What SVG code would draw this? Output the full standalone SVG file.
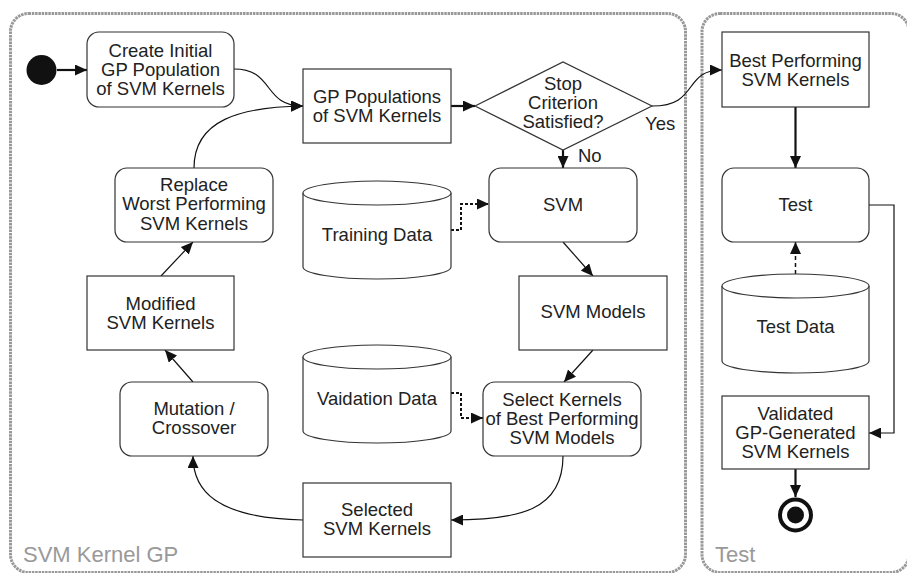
<svg xmlns="http://www.w3.org/2000/svg" width="907" height="573" viewBox="0 0 907 573">
<style>
.bg{fill:#fff}
.cont{fill:none;stroke:#999;stroke-width:3;stroke-dasharray:2.5 0.8}
.clabel{font-family:"Liberation Sans",Arial,Helvetica,sans-serif;font-size:22px;fill:#999}
.n{fill:#fff;stroke:#333;stroke-width:1.2}
.t{font-family:"Liberation Sans",Arial,Helvetica,sans-serif;font-size:18.5px;fill:#222;text-anchor:middle}
.lbl{font-family:"Liberation Sans",Arial,Helvetica,sans-serif;font-size:18.5px;fill:#222}
.c{fill:none;stroke:#111;stroke-width:1.2}
.thick{stroke-width:2.2}
.dot{stroke-width:2;stroke-dasharray:3 2}
.dash{stroke-width:1.5;stroke-dasharray:4 3}
</style>
<defs>
<marker id="ah" markerWidth="12" markerHeight="11" refX="12" refY="5.5" orient="auto" markerUnits="userSpaceOnUse">
<path d="M0,0 L12,5.5 L0,11 z" fill="#111"/>
</marker>
</defs>
<rect class="bg" x="0" y="0" width="907" height="573"/>
<g id="container-svm-kernel-gp">
<rect class="cont" x="10.5" y="13.5" width="675" height="559" rx="18"/>
<text class="clabel" x="23" y="562">SVM Kernel GP</text>
</g>
<g id="container-test">
<rect class="cont" x="702" y="13.5" width="207" height="559" rx="18"/>
<text class="clabel" x="715" y="562">Test</text>
</g>
<g id="connectors">
<path class="c thick" d="M57,70 L87,70" marker-end="url(#ah)"/>
<path class="c" d="M234,69 C275,69 262,106 303,106" marker-end="url(#ah)"/>
<path class="c" d="M194,168 C194,120 240,107 303,106" marker-end="url(#ah)"/>
<path class="c thick" d="M451,106 L475,106" marker-end="url(#ah)"/>
<path class="c thick" d="M563,150 L563,168" marker-end="url(#ah)"/>
<path class="c" d="M652,106 C700,106 682,70 722,70" marker-end="url(#ah)"/>
<path class="c thick" d="M795.5,107 L795.5,168" marker-end="url(#ah)"/>
<path class="c dot" d="M451,230 L461,230 L461,204 L489,204" marker-end="url(#ah)"/>
<path class="c" d="M563,242 L593,276" marker-end="url(#ah)"/>
<path class="c" d="M593,350 L564,382" marker-end="url(#ah)"/>
<path class="c dot" d="M451,393 L461,393 L461,418 L483,418" marker-end="url(#ah)"/>
<path class="c" d="M563,456 C563,510 520,520 451,520" marker-end="url(#ah)"/>
<path class="c" d="M303,520 C215,518 193,490 193,456" marker-end="url(#ah)"/>
<path class="c" d="M193,382 L165,350" marker-end="url(#ah)"/>
<path class="c" d="M161,276 L193,242" marker-end="url(#ah)"/>
<path class="c dash" d="M795.5,274 L795.5,242" marker-end="url(#ah)"/>
<path class="c" d="M869,205 L894,205 L894,433 L869,433" marker-end="url(#ah)"/>
<path class="c thick" d="M795.5,469 L795.5,497" marker-end="url(#ah)"/>
<text class="lbl" x="645" y="130">Yes</text>
<text class="lbl" x="578" y="162">No</text>
</g>
<g id="start"><circle cx="41.5" cy="70" r="15" fill="#111"/></g>
<g id="create-initial">
<rect class="n" x="87" y="32" width="147" height="75" rx="12"/>
<text class="t" x="160.5" y="56.5">Create Initial</text>
<text class="t" x="160.5" y="75.5">GP Population</text>
<text class="t" x="160.5" y="94.5">of SVM Kernels</text>
</g>
<g id="gp-populations">
<rect class="n" x="303" y="69" width="148" height="74"/>
<text class="t" x="377" y="103">GP Populations</text>
<text class="t" x="377" y="122">of SVM Kernels</text>
</g>
<g id="stop-criterion">
<polygon class="n" points="475,106 563,62 652,106 563,150"/>
<text class="t" x="563" y="90">Stop</text>
<text class="t" x="563" y="109">Criterion</text>
<text class="t" x="563" y="128">Satisfied?</text>
</g>
<g id="best-performing">
<rect class="n" x="722" y="32" width="147" height="75"/>
<text class="t" x="795.5" y="67">Best Performing</text>
<text class="t" x="795.5" y="86">SVM Kernels</text>
</g>
<g id="svm">
<rect class="n" x="489" y="168" width="148" height="74" rx="12"/>
<text class="t" x="563" y="211">SVM</text>
</g>
<g id="test">
<rect class="n" x="722" y="168" width="147" height="74" rx="12"/>
<text class="t" x="795.5" y="211">Test</text>
</g>
<g id="training-data">
<path class="n" d="M303,193 A74,12 0 0 1 451,193 L451,267 A74,12 0 0 1 303,267 Z"/>
<path class="n" fill="none" d="M303,193 A74,12 0 0 0 451,193"/>
<text class="t" x="377" y="241">Training Data</text>
</g>
<g id="replace">
<rect class="n" x="115" y="168" width="158" height="74" rx="12"/>
<text class="t" x="194" y="190.5">Replace</text>
<text class="t" x="194" y="210">Worst Performing</text>
<text class="t" x="194" y="229.5">SVM Kernels</text>
</g>
<g id="modified">
<rect class="n" x="87" y="276" width="147" height="74"/>
<text class="t" x="160.5" y="309.5">Modified</text>
<text class="t" x="160.5" y="328.5">SVM Kernels</text>
</g>
<g id="svm-models">
<rect class="n" x="519" y="276" width="148" height="74"/>
<text class="t" x="593" y="318">SVM Models</text>
</g>
<g id="test-data">
<path class="n" d="M722,286 A73.5,12 0 0 1 869,286 L869,361 A73.5,12 0 0 1 722,361 Z"/>
<path class="n" fill="none" d="M722,286 A73.5,12 0 0 0 869,286"/>
<text class="t" x="795.5" y="333">Test Data</text>
</g>
<g id="validation-data">
<path class="n" d="M303,357 A74,12 0 0 1 451,357 L451,431 A74,12 0 0 1 303,431 Z"/>
<path class="n" fill="none" d="M303,357 A74,12 0 0 0 451,357"/>
<text class="t" x="377" y="405">Vaidation Data</text>
</g>
<g id="mutation">
<rect class="n" x="120" y="382" width="148" height="74" rx="12"/>
<text class="t" x="194" y="415">Mutation /</text>
<text class="t" x="194" y="434">Crossover</text>
</g>
<g id="select-kernels">
<rect class="n" x="483" y="382" width="158" height="74" rx="12"/>
<text class="t" x="562" y="406">Select Kernels</text>
<text class="t" x="562" y="425">of Best Performing</text>
<text class="t" x="562" y="444">SVM Models</text>
</g>
<g id="validated">
<rect class="n" x="722" y="396" width="147" height="73"/>
<text class="t" x="795.5" y="419.5">Validated</text>
<text class="t" x="795.5" y="438.5">GP-Generated</text>
<text class="t" x="795.5" y="457.5">SVM Kernels</text>
</g>
<g id="selected">
<rect class="n" x="303" y="483" width="148" height="74"/>
<text class="t" x="377" y="516">Selected</text>
<text class="t" x="377" y="535">SVM Kernels</text>
</g>
<g id="end">
<circle cx="795.5" cy="515" r="15.5" fill="#fff" stroke="#111" stroke-width="4"/>
<circle cx="795.5" cy="515" r="8.5" fill="#111"/>
</g>
</svg>
